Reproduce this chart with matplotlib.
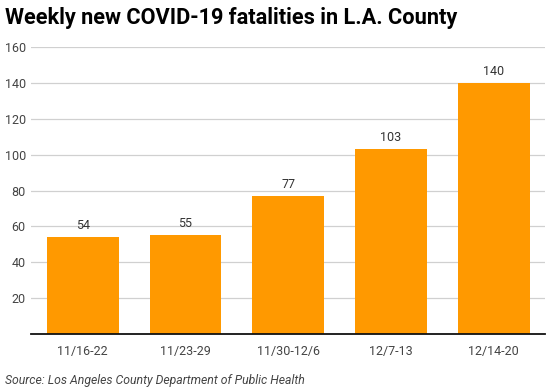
import matplotlib.pyplot as plt

categories = ["11/16-22", "11/23-29", "11/30-12/6", "12/7-13", "12/14-20"]
values = [54, 55, 77, 103, 140]
yticks = [20, 40, 60, 80, 100, 120, 140, 160]

plt.rcParams['font.family'] = ['Roboto', 'DejaVu Sans']

fig = plt.figure(figsize=(5.51, 3.92), dpi=100)
ax = fig.add_axes([0.057, 0.148, 0.932, 0.732])

x = range(len(categories))
bars = ax.bar(x, values, width=0.70, color='#ff9900', zorder=3)
for xi, v in zip(x, values):
    ax.text(xi, v + 3, str(v), ha='center', va='bottom', fontsize=9, color='#333333', zorder=4)

ax.set_xlim(-0.5, len(categories) - 0.5)
ax.set_ylim(0, 160)
ax.set_yticks(yticks)
ax.set_yticklabels([str(t) for t in yticks])
ax.set_xticks(list(x))
ax.set_xticklabels(categories)
ax.grid(axis='y', color='#d0d0d0', linewidth=0.9, zorder=0)
for s in ['top', 'right', 'left']:
    ax.spines[s].set_visible(False)
ax.spines['bottom'].set_color('#111111')
ax.spines['bottom'].set_linewidth(1.3)
ax.spines['bottom'].set_zorder(5)
ax.tick_params(axis='both', length=0, labelsize=9, colors='#444444')
ax.tick_params(axis='x', pad=8)
ax.tick_params(axis='y', pad=4)

fig.text(0.009, 0.954, "Weekly new COVID-19 fatalities in L.A. County", fontsize=15.7,
         fontweight='bold', color='#000000', ha='left', va='center')
fig.text(0.009, 0.03, "Source: Los Angeles County Department of Public Health", fontsize=8.8,
         style='italic', color='#444444', ha='left', va='center')

fig.savefig('out.png', dpi=100)
